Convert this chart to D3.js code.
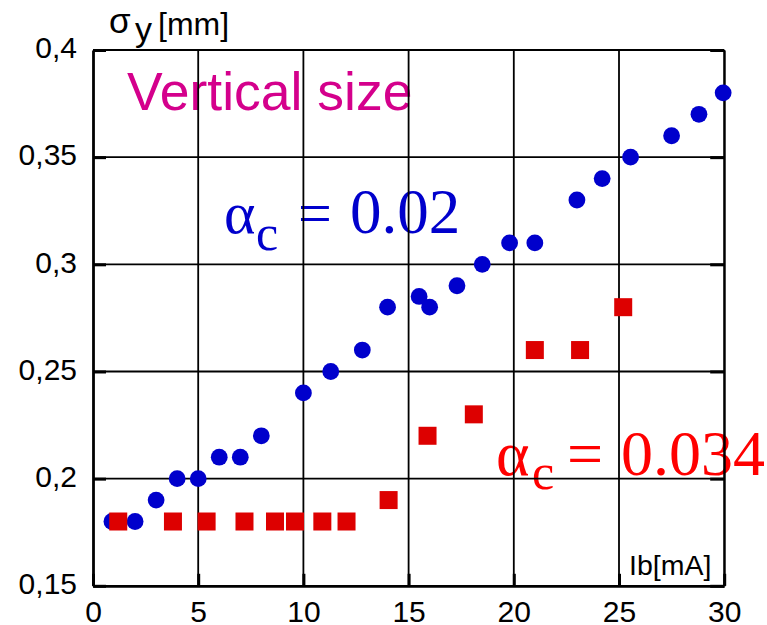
<!DOCTYPE html>
<html>
<head>
<meta charset="utf-8">
<script src="https://cdn.jsdelivr.net/npm/d3@7.9.0/dist/d3.min.js"></script>
<style>
  html, body { margin: 0; padding: 0; background: #fff; }
  svg { display: block; }
</style>
</head>
<body>
<svg id="chart" width="767" height="625"></svg>
<script>
// data
const blueX = [0.9, 2.0, 3.0, 4.0, 5.0, 6.0, 7.0, 8.0, 10.0, 11.3, 12.8, 14.0, 15.5, 16.0, 17.3, 18.5, 19.8, 21.0, 23.0, 24.2, 25.55, 27.5, 28.8, 29.95];
const blueY = [0.18, 0.18, 0.19, 0.20, 0.20, 0.21, 0.21, 0.22, 0.24, 0.25, 0.26, 0.28, 0.285, 0.28, 0.29, 0.30, 0.31, 0.31, 0.33, 0.34, 0.35, 0.36, 0.37, 0.38];
const redX = [1.2, 3.8, 5.4, 7.2, 8.65, 9.6, 10.9, 12.05, 14.05, 15.9, 18.1, 21.0, 23.15, 25.2];
const redY = [0.18, 0.18, 0.18, 0.18, 0.18, 0.18, 0.18, 0.18, 0.19, 0.22, 0.23, 0.26, 0.26, 0.28];

const xTicks = [0, 5, 10, 15, 20, 25, 30];
const xTickLabels = ["0", "5", "10", "15", "20", "25", "30"];
const yTicks = [0.15, 0.2, 0.25, 0.3, 0.35, 0.4];
const yTickLabels = ["0,15", "0,2", "0,25", "0,3", "0,35", "0,4"];

const svg = d3.select("#chart");
const sans = "'Liberation Sans', Arial, sans-serif";
const serif = "'Liberation Serif', 'Times New Roman', serif";

const x = d3.scaleLinear().domain([0, 30]).range([93, 724.2]);
const y = d3.scaleLinear().domain([0.15, 0.4]).range([585.8, 50]);

// annotations (grid is drawn over them, like the original)
svg.append("text")
  .attr("x", 127).attr("y", 110)
  .attr("font-family", sans).attr("font-size", 53.5)
  .attr("fill", "#d4008c")
  .text("Vertical size");

const blueLabel = svg.append("text")
  .attr("font-family", serif).attr("fill", "#0000cc");
blueLabel.append("tspan").attr("x", 224).attr("y", 233).attr("font-size", 60).text("α");
blueLabel.append("tspan").attr("x", 256).attr("y", 250).attr("font-size", 50).text("c");
blueLabel.append("tspan").attr("x", 298).attr("y", 233).attr("font-size", 60).text("=");
blueLabel.append("tspan").attr("x", 350).attr("y", 233).attr("font-size", 63).text("0.02");

const redLabel = svg.append("text")
  .attr("font-family", serif).attr("fill", "#ff0000");
redLabel.append("tspan").attr("x", 496).attr("y", 475).attr("font-size", 64).text("α");
redLabel.append("tspan").attr("x", 532).attr("y", 489).attr("font-size", 50).text("c");
redLabel.append("tspan").attr("x", 567).attr("y", 475).attr("font-size", 64).text("=");
redLabel.append("tspan").attr("x", 621).attr("y", 475).attr("font-size", 64).text("0.034");

// grid
svg.append("g").selectAll("line").data(xTicks.slice(1)).join("line")
  .attr("x1", d => x(d)).attr("x2", d => x(d))
  .attr("y1", y(0.4)).attr("y2", y(0.15))
  .attr("stroke", "#000").attr("stroke-width", 1.8);
svg.append("g").selectAll("line").data(yTicks.slice(1)).join("line")
  .attr("x1", x(0)).attr("x2", x(30))
  .attr("y1", d => y(d)).attr("y2", d => y(d))
  .attr("stroke", "#000").attr("stroke-width", 1.8);

// axes with inner ticks
const xAxis = svg.append("g")
  .attr("transform", `translate(0,${y(0.15)})`)
  .call(d3.axisBottom(x).tickValues(xTicks)
    .tickFormat((d, i) => xTickLabels[i])
    .tickSize(-12).tickSizeOuter(0).tickPadding(15));

const yAxis = svg.append("g")
  .attr("transform", `translate(${x(0)},0)`)
  .call(d3.axisLeft(y).tickValues(yTicks)
    .tickFormat((d, i) => yTickLabels[i])
    .tickSize(-13).tickSizeOuter(0).tickPadding(16));

const rAxis = svg.append("g")
  .attr("transform", `translate(${x(30)},0)`)
  .call(d3.axisRight(y).tickValues(yTicks)
    .tickFormat("").tickSize(-14).tickSizeOuter(0));

[xAxis, yAxis, rAxis].forEach(g => {
  g.select(".domain").attr("stroke", "#000").attr("stroke-width", 2.8);
  g.selectAll(".tick line").attr("stroke", "#000").attr("stroke-width", 3);
  g.selectAll(".tick text")
    .attr("fill", "#000")
    .attr("font-family", sans)
    .attr("font-size", 30);
});
rAxis.select(".domain").attr("stroke-width", 2);
yAxis.selectAll(".tick text").attr("dy", "0.26em");

// axis titles
const yTitle = svg.append("text").attr("font-family", sans).attr("fill", "#000");
yTitle.append("tspan").attr("x", 109).attr("y", 33).attr("font-size", 35).text("σ");
yTitle.append("tspan").attr("x", 135).attr("y", 41).attr("font-size", 34).text("y");
yTitle.append("tspan").attr("x", 158).attr("y", 35).attr("font-size", 32).text("[mm]");

svg.append("text")
  .attr("x", 629).attr("y", 575)
  .attr("font-family", sans).attr("font-size", 28.5)
  .attr("fill", "#000")
  .text("Ib[mA]");

// markers
svg.append("g").selectAll("circle").data(blueX).join("circle")
  .attr("cx", d => x(d))
  .attr("cy", (d, i) => y(blueY[i]))
  .attr("r", 8.4)
  .attr("fill", "#0000cc");

svg.append("g").selectAll("rect").data(redX).join("rect")
  .attr("x", d => x(d) - 9)
  .attr("y", (d, i) => y(redY[i]) - 9)
  .attr("width", 18).attr("height", 18)
  .attr("fill", "#dd0000");
</script>
</body>
</html>
